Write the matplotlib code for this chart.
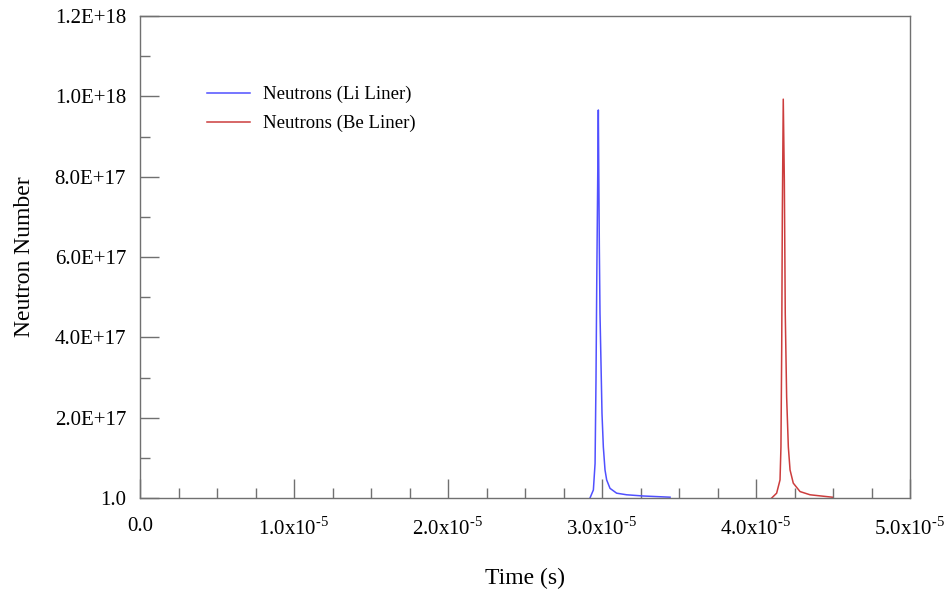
import matplotlib
matplotlib.use("Agg")
import matplotlib.pyplot as plt
from matplotlib.ticker import FixedLocator, FixedFormatter, MultipleLocator

plt.rcParams['font.family'] = ['Liberation Serif', 'DejaVu Serif']
plt.rcParams['mathtext.fontset'] = 'custom'
plt.rcParams['mathtext.rm'] = 'Liberation Serif'
plt.rcParams['axes.unicode_minus'] = False

# Li liner neutrons (time in s, neutron number)
li_time = [2.922e-5, 2.944e-5, 2.955e-5, 2.961e-5, 2.966e-5, 2.972e-5, 2.9762e-5,
           2.9827e-5, 2.987e-5, 2.9935e-5, 3.000e-5, 3.0087e-5, 3.0195e-5, 3.0303e-5,
           3.052e-5, 3.095e-5, 3.160e-5, 3.268e-5, 3.442e-5]
li_value = [0.0, 0.2e17, 0.86e17, 2.93e17, 5.4e17, 7.9e17, 9.66e17,
            6.24e17, 4.59e17, 3.35e17, 2.10e17, 1.27e17, 0.70e17, 0.45e17,
            0.24e17, 0.12e17, 0.08e17, 0.05e17, 0.02e17]

# Be liner neutrons
be_time = [4.102e-5, 4.134e-5, 4.156e-5, 4.162e-5, 4.167e-5, 4.171e-5, 4.177e-5,
           4.184e-5, 4.190e-5, 4.199e-5, 4.210e-5, 4.221e-5, 4.242e-5, 4.286e-5,
           4.351e-5, 4.495e-5]
be_value = [0.0, 0.12e17, 0.45e17, 1.27e17, 3.75e17, 7.07e17, 9.93e17,
            7.9e17, 4.59e17, 2.51e17, 1.27e17, 0.70e17, 0.37e17, 0.16e17,
            0.08e17, 0.02e17]

x_ticks = [0.0, 1e-5, 2e-5, 3e-5, 4e-5, 5e-5]
x_labels = ['0.0', r'1.0x10$^{\text{-5}}$', r'2.0x10$^{\text{-5}}$',
            r'3.0x10$^{\text{-5}}$', r'4.0x10$^{\text{-5}}$',
            r'5.0x10$^{\text{-5}}$']
y_ticks = [0.0, 2e17, 4e17, 6e17, 8e17, 1e18, 1.2e18]
y_labels = ['1.0', '2.0E+17', '4.0E+17', '6.0E+17', '8.0E+17', '1.0E+18', '1.2E+18']

fig = plt.figure(figsize=(9.47, 5.94), dpi=100)
ax = fig.add_axes([140/947, 1-498/594, 770/947, 482/594])

ax.plot(li_time, li_value, color='#5050ff', lw=1.1, label='Neutrons (Li Liner)')
ax.plot(be_time, be_value, color='#cc3d3d', lw=1.1, label='Neutrons (Be Liner)')

ax.set_xlim(0, 5e-5)
ax.set_ylim(0, 1.2e18)

ax.xaxis.set_major_locator(FixedLocator(x_ticks))
ax.xaxis.set_major_formatter(FixedFormatter(x_labels))
ax.xaxis.set_minor_locator(MultipleLocator(2.5e-6))
ax.yaxis.set_major_locator(FixedLocator(y_ticks))
ax.yaxis.set_major_formatter(FixedFormatter(y_labels))
ax.yaxis.set_minor_locator(MultipleLocator(1e17))

spine_col = '#707070'
for s in ax.spines.values():
    s.set_color(spine_col)
    s.set_linewidth(1.0)
    s.set_zorder(3)

ax.tick_params(which='major', direction='in', length=14, width=1, color=spine_col,
               labelsize=15, top=False, right=False)
ax.tick_params(which='minor', direction='in', length=7, width=1, color=spine_col,
               top=False, right=False)
ax.tick_params(axis='x', which='major', pad=14)
ax.tick_params(axis='y', which='major', pad=10)

ax.set_xlabel('Time (s)', fontsize=17, labelpad=20)
ax.set_ylabel('Neutron Number', fontsize=17, labelpad=14)

ax.legend(loc='upper left', bbox_to_anchor=(0.087, 0.855), frameon=False,
          fontsize=13.5, handlelength=2.3, handletextpad=0.7, borderpad=0,
          borderaxespad=0, labelspacing=0.62)

fig.savefig('out.png', dpi=100)
